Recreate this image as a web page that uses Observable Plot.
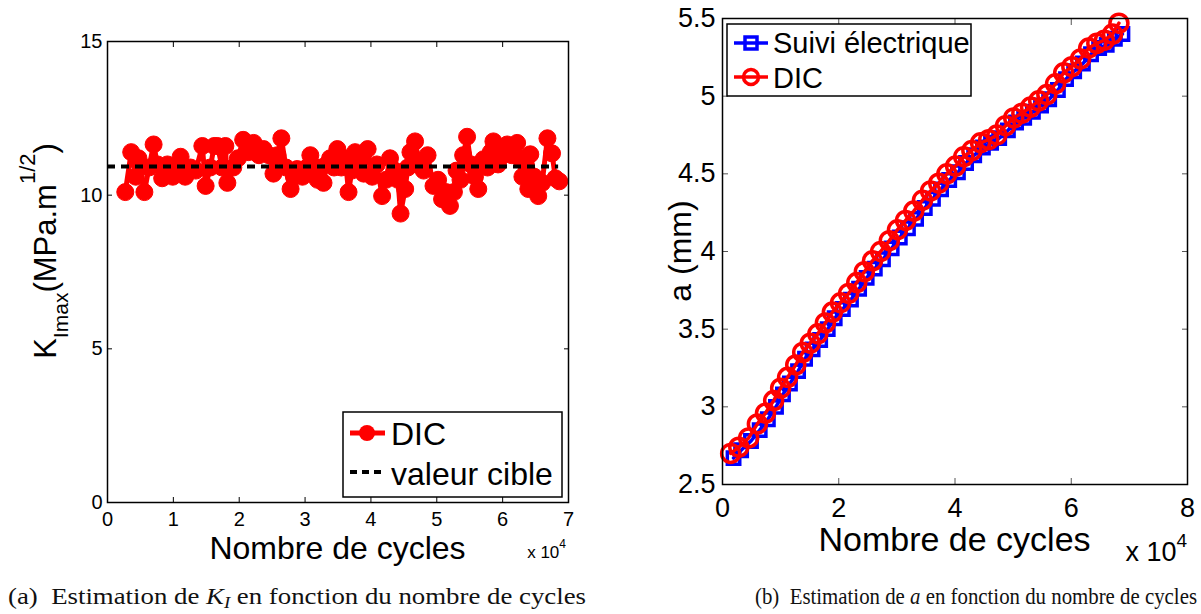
<!DOCTYPE html>
<html><head><meta charset="utf-8">
<script src="https://cdn.jsdelivr.net/npm/d3@7"></script>
<script src="https://cdn.jsdelivr.net/npm/@observablehq/plot@0.6"></script>
<style>
body{margin:0;background:#fff;width:1201px;height:614px;position:relative;overflow:hidden;font-family:"Liberation Sans",Arial,sans-serif;}
#a,#b{position:absolute;top:0;}
#a{left:0px} #b{left:600px}
.cap{position:absolute;font-family:"Liberation Serif","Times New Roman",serif;font-size:23px;color:#111;white-space:pre;top:585px;line-height:24px;transform-origin:0 0;display:inline-block}
.cap sub{font-size:16px;vertical-align:-4px;line-height:0}
</style></head><body>
<div id="a"></div><div id="b"></div>
<div class="cap" id="capA"></div><div class="cap" id="capB"></div>
<script>
// ---------- data ----------
// (a) K_Imax vs cycles (cycles in units of 10^4)
const kCycles = [0.27,0.36,0.43,0.47,0.56,0.63,0.70,0.76,0.83,0.91,0.99,1.05,1.11,1.18,1.26,1.34,1.44,1.49,1.56,1.62,1.67,1.74,1.79,1.82,1.91,1.98,2.06,2.14,2.22,2.30,2.37,2.45,2.52,2.58,2.64,2.71,2.78,2.83,2.88,2.96,3.03,3.08,3.14,3.19,3.24,3.28,3.33,3.38,3.44,3.49,3.55,3.61,3.66,3.71,3.76,3.83,3.89,3.95,4.02,4.09,4.17,4.23,4.29,4.36,4.41,4.45,4.52,4.56,4.60,4.67,4.74,4.80,4.86,4.95,5.02,5.08,5.14,5.20,5.26,5.30,5.36,5.40,5.46,5.52,5.58,5.63,5.71,5.77,5.82,5.86,5.93,6.00,6.07,6.14,6.22,6.26,6.30,6.35,6.39,6.42,6.48,6.54,6.60,6.68,6.75,6.80,6.86];
const kValues = [10.1,11.4,10.6,11.2,10.1,10.9,11.65,11.0,10.55,11.0,10.6,10.9,11.25,10.6,10.9,10.8,11.6,10.3,10.9,11.6,11.6,10.9,11.6,10.4,10.9,11.2,11.8,11.4,11.7,11.3,11.5,11.3,10.7,11.3,11.85,10.9,10.2,10.6,10.85,10.6,10.9,11.3,10.9,10.5,10.9,10.4,11.0,11.2,10.9,11.5,10.9,11.2,10.1,10.8,11.4,11.1,10.7,11.5,10.6,11.0,9.97,10.5,11.2,10.8,10.5,9.4,10.2,10.9,11.4,11.75,11.0,10.8,11.3,10.3,10.5,9.87,10.1,9.65,10.1,10.8,10.5,11.3,11.9,11.0,10.6,10.2,11.17,10.9,11.4,11.75,11.0,11.3,11.65,11.3,11.7,11.2,10.6,11.0,10.2,11.33,10.6,9.97,10.4,11.85,11.36,10.55,10.45];
const targetValue = 10.93;
const targetSpan = [0, 6.85];
const kTicksX = [0,1,2,3,4,5,6,7];
const kTicksY = [0,5,10,15];

// (b) crack length a (mm) vs cycles (10^4)
const elecCycles = [0.19,0.32,0.49,0.64,0.78,0.92,1.04,1.16,1.30,1.42,1.55,1.68,1.81,1.93,2.07,2.21,2.35,2.48,2.62,2.76,2.91,3.05,3.19,3.33,3.48,3.62,3.76,3.90,4.05,4.19,4.33,4.48,4.62,4.76,4.91,5.05,5.19,5.34,5.48,5.62,5.77,5.91,6.05,6.20,6.34,6.48,6.61,6.75,6.88];
const elecA = [2.67,2.72,2.78,2.85,2.92,3.00,3.08,3.15,3.23,3.31,3.37,3.43,3.50,3.57,3.63,3.69,3.76,3.83,3.89,3.95,4.02,4.09,4.15,4.21,4.28,4.34,4.40,4.46,4.51,4.57,4.62,4.67,4.70,4.73,4.78,4.83,4.86,4.90,4.94,4.98,5.04,5.11,5.16,5.21,5.27,5.31,5.33,5.37,5.40];
const dicCycles = [0.14,0.28,0.45,0.60,0.74,0.88,1.00,1.12,1.26,1.38,1.51,1.64,1.77,1.89,2.03,2.17,2.31,2.44,2.58,2.72,2.87,3.01,3.15,3.29,3.44,3.58,3.72,3.86,4.01,4.15,4.29,4.44,4.58,4.72,4.87,5.01,5.15,5.30,5.44,5.58,5.73,5.87,6.01,6.16,6.30,6.44,6.57,6.71,6.82];
const dicA = [2.70,2.74,2.80,2.89,2.96,3.04,3.12,3.19,3.27,3.35,3.41,3.47,3.54,3.61,3.67,3.73,3.80,3.87,3.94,4.00,4.07,4.14,4.20,4.26,4.33,4.39,4.44,4.50,4.55,4.61,4.65,4.70,4.72,4.75,4.81,4.86,4.89,4.93,4.97,5.01,5.08,5.15,5.19,5.24,5.31,5.34,5.36,5.40,5.47];
const aTicksX = [0,2,4,6,8];
const aTicksY = [2.5,3,3.5,4,4.5,5,5.5];

// texts
const xLabel = "Nombre de cycles";
const kLegend = ["DIC","valeur cible"];
const aLegend = ["Suivi électrique","DIC"];
const aYLabel = "a (mm)";

const FONT = "Liberation Sans, Arial, Helvetica, sans-serif";
const fmt = d => String(d);

// ---------- chart (a) ----------
const kData = kCycles.map((x,i)=>({x, y:kValues[i]}));
const left = Plot.plot({
  width:600, height:580,
  marginLeft:107, marginRight:32, marginTop:41, marginBottom:78,
  x:{domain:[0,7]}, y:{domain:[0,15]},
  style:{fontFamily:FONT, fontSize:"20px", color:"black", background:"white", overflow:"visible"},
  marks:[
    Plot.axisX({ticks:kTicksX, anchor:"bottom", tickSize:-5, tickPadding:14, tickFormat:fmt, label:null, fontSize:20}),
    Plot.axisX({ticks:kTicksX, anchor:"top", tickSize:-5, tickFormat:()=>"", label:null}),
    Plot.axisY({ticks:kTicksY, anchor:"left", tickSize:-5, tickPadding:10, tickFormat:fmt, label:null, fontSize:20}),
    Plot.axisY({ticks:kTicksY, anchor:"right", tickSize:-5, tickFormat:()=>"", label:null}),
    Plot.line(kData, {x:"x", y:"y", stroke:"#ff0000", strokeWidth:5}),
    Plot.dot(kData, {x:"x", y:"y", r:8.5, fill:"#ff0000", stroke:"#ff0000", strokeWidth:1}),
    Plot.ruleY([targetValue], {x1:targetSpan[0], x2:targetSpan[1], stroke:"black", strokeWidth:4, strokeDasharray:"8,6"}),
    Plot.frame({stroke:"black", strokeWidth:1.5})
  ]
});
document.getElementById("a").appendChild(left);
{
  const s = d3.select(left);
  const yl = s.append("text").attr("transform","translate(56,251) rotate(-90)")
    .attr("text-anchor","middle").attr("font-family",FONT).attr("font-size",31).attr("fill","black");
  yl.append("tspan").text("K");
  yl.append("tspan").attr("font-size",21).attr("dy",12).text("Imax");
  yl.append("tspan").attr("dy",-12).text("(MPa.m");
  yl.append("tspan").attr("font-size",22).attr("dy",-21).text("1/2");
  yl.append("tspan").attr("dy",21).text(")");
  s.append("text").attr("x",337.5).attr("y",559).attr("text-anchor","middle")
    .attr("font-family",FONT).attr("font-size",32).attr("fill","black").text(xLabel);
  const ex = s.append("text").attr("x",566).attr("y",558).attr("text-anchor","end")
    .attr("font-family",FONT).attr("font-size",17).attr("fill","black");
  ex.append("tspan").text("x 10");
  ex.append("tspan").attr("font-size",12).attr("dy",-10).text("4");
  const g = s.append("g").attr("text-anchor","start");
  g.append("rect").attr("x",343).attr("y",412).attr("width",219).attr("height",85)
    .attr("fill","white").attr("stroke","black").attr("stroke-width",1.5);
  g.append("line").attr("x1",350).attr("x2",385).attr("y1",433).attr("y2",433).attr("stroke","#ff0000").attr("stroke-width",5);
  g.append("circle").attr("cx",367).attr("cy",433).attr("r",8).attr("fill","#ff0000");
  g.append("text").attr("x",391).attr("y",445).attr("text-anchor","start").attr("font-family",FONT).attr("font-size",32).attr("fill","black").text(kLegend[0]);
  g.append("line").attr("x1",350).attr("x2",385).attr("y1",472).attr("y2",472).attr("stroke","black").attr("stroke-width",4).attr("stroke-dasharray","7,5");
  g.append("text").attr("x",391).attr("y",485).attr("text-anchor","start").attr("font-family",FONT).attr("font-size",32).attr("fill","black").text(kLegend[1]);
}

// ---------- chart (b) ----------
const elecData = elecCycles.map((x,i)=>({x, y:elecA[i]}));
const dicData = dicCycles.map((x,i)=>({x, y:dicA[i]}));
const right = Plot.plot({
  width:601, height:580,
  marginLeft:122, marginRight:14, marginTop:18, marginBottom:96,
  x:{domain:[0,8]}, y:{domain:[2.5,5.5]},
  style:{fontFamily:FONT, fontSize:"27px", color:"black", background:"white", overflow:"visible"},
  marks:[
    Plot.axisX({ticks:aTicksX, anchor:"bottom", tickSize:-6, tickPadding:19, tickFormat:fmt, label:null, fontSize:27, stroke:"#555"}),
    Plot.axisX({ticks:aTicksX, anchor:"top", tickSize:-6, tickFormat:()=>"", label:null, stroke:"#555"}),
    Plot.axisY({ticks:aTicksY, anchor:"left", tickSize:-6, tickPadding:13, tickFormat:fmt, label:null, fontSize:27, stroke:"#555"}),
    Plot.axisY({ticks:aTicksY, anchor:"right", tickSize:-6, tickFormat:()=>"", label:null, stroke:"#555"}),
    Plot.line(elecData, {x:"x", y:"y", stroke:"#0000ff", strokeWidth:3.5}),
    Plot.dot(elecData, {x:"x", y:"y", symbol:"square", r:7, fill:"none", stroke:"#0000ff", strokeWidth:3.5}),
    Plot.line(dicData, {x:"x", y:"y", stroke:"#ff0000", strokeWidth:3.5}),
    Plot.dot(dicData, {x:"x", y:"y", r:9, fill:"none", stroke:"#ff0000", strokeWidth:3.5}),
    Plot.frame({stroke:"black", strokeWidth:1.5})
  ]
});
document.getElementById("b").appendChild(right);
{
  const s = d3.select(right);
  s.append("text").attr("transform","translate(91,251) rotate(-90)").attr("text-anchor","middle")
    .attr("font-family",FONT).attr("font-size",32).attr("fill","black").text(aYLabel);
  s.append("text").attr("x",354.5).attr("y",551).attr("text-anchor","middle")
    .attr("font-family",FONT).attr("font-size",34).attr("fill","black").text(xLabel);
  const ex = s.append("text").attr("x",587).attr("y",561).attr("text-anchor","end")
    .attr("font-family",FONT).attr("font-size",27).attr("fill","black");
  ex.append("tspan").text("x 10");
  ex.append("tspan").attr("font-size",19).attr("dy",-14).text("4");
  const g = s.append("g").attr("text-anchor","start");
  g.append("rect").attr("x",127).attr("y",24).attr("width",244).attr("height",72)
    .attr("fill","white").attr("stroke","black").attr("stroke-width",1.5);
  g.append("line").attr("x1",134).attr("x2",168).attr("y1",43).attr("y2",43).attr("stroke","#0000ff").attr("stroke-width",3.5);
  g.append("rect").attr("x",145).attr("y",37).attr("width",12).attr("height",12).attr("fill","none").attr("stroke","#0000ff").attr("stroke-width",3.5);
  g.append("text").attr("x",173).attr("y",53).attr("text-anchor","start").attr("font-family",FONT).attr("font-size",29).attr("fill","black").text(aLegend[0]);
  g.append("line").attr("x1",134).attr("x2",168).attr("y1",77).attr("y2",77).attr("stroke","#ff0000").attr("stroke-width",3.5);
  g.append("circle").attr("cx",151).attr("cy",77).attr("r",7.5).attr("fill","none").attr("stroke","#ff0000").attr("stroke-width",3.5);
  g.append("text").attr("x",173).attr("y",88).attr("text-anchor","start").attr("font-family",FONT).attr("font-size",29).attr("fill","black").text(aLegend[1]);
}

// ---------- captions ----------
const capA = document.getElementById("capA");
capA.innerHTML = "(a)  Estimation de <i>K<sub>I</sub></i> en fonction du nombre de cycles";
const capB = document.getElementById("capB");
capB.innerHTML = "(b)  Estimation de <i>a</i> en fonction du nombre de cycles";
function fitCaption(el, x0, x1){
  el.style.left = x0 + "px";
  const w = el.getBoundingClientRect().width;
  el.style.transform = `scaleX(${(x1 - x0) / w})`;
}
fitCaption(capA, 8, 586);
fitCaption(capB, 755, 1197);
</script>
</body></html>
